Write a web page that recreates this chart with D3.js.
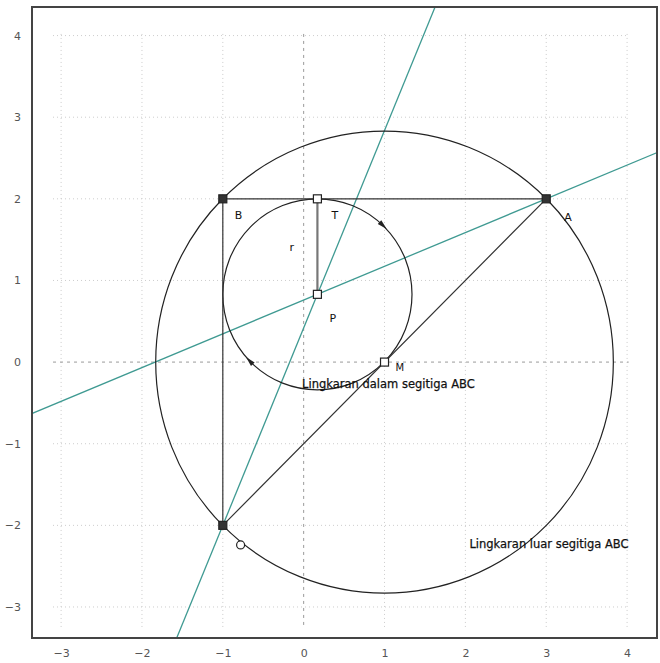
<!DOCTYPE html>
<html>
<head>
<meta charset="utf-8">
<script src="https://cdn.jsdelivr.net/npm/d3@7"></script>
<style>
  body { margin: 0; background: #fff; }
  text { font-family: "DejaVu Sans", sans-serif; }
</style>
</head>
<body>
<div id="chartContainer"></div>
<script>
// segitiga siku-siku ABC, lingkaran dalam dan lingkaran luar
const pointNames = ["A", "B", "C", "T", "P", "M"];
const pointX = [3, -1, -1, 0.17, 0.17, 1];
const pointY = [2, 2, -2, 2, 0.83, 0];
const filledPoints = ["A", "B", "C"];

const tickValues = [-3, -2, -1, 0, 1, 2, 3, 4];

// lingkaran: pusat dan jari-jari
const circleNames = ["dalam", "luar"];
const circleCx = [0.17, 1];
const circleCy = [0.83, 0];
const circleR = [1.17, 2.83];

// garis bagi sudut (dua titik pada garis)
const bisectorFrom = ["A", "C"];
const bisectorThrough = ["P", "P"];

// titik lain pada lingkaran luar
const extraX = [-0.78];
const extraY = [-2.24];

// penanda arah pada lingkaran dalam (derajat)
const arrowAngles = [46, 224];

const labelText = ["Lingkaran dalam segitiga ABC", "Lingkaran luar segitiga ABC"];
const labelX = [-0.02, 2.05];
const labelY = [-0.32, -2.28];

(function() {
    const fullWidth = 660, fullHeight = 663;
    const x = d3.scaleLinear().domain([-3.36, 4.37]).range([32, 657]);
    const y = d3.scaleLinear().domain([-3.38, 4.35]).range([638, 7]);

    const pt = {};
    pointNames.forEach((n, i) => pt[n] = [pointX[i], pointY[i]]);

    const svg = d3.create("svg")
        .attr("width", fullWidth)
        .attr("height", fullHeight)
        .attr("viewBox", [0, 0, fullWidth, fullHeight]);

    svg.append("defs").append("clipPath").attr("id", "plotClip")
        .append("rect")
        .attr("x", x(-3.36)).attr("y", y(4.35))
        .attr("width", x(4.37) - x(-3.36)).attr("height", y(-3.38) - y(4.35));

    // grid
    const grid = svg.append("g").attr("stroke", "#ccc").attr("stroke-dasharray", "1,3").attr("stroke-width", 1);
    grid.selectAll("line.v").data(tickValues.filter(d => d !== 0)).join("line")
        .attr("class", "v")
        .attr("x1", d => x(d)).attr("x2", d => x(d))
        .attr("y1", y(4.02)).attr("y2", y(-3.25));
    grid.selectAll("line.h").data(tickValues.filter(d => d !== 0)).join("line")
        .attr("class", "h")
        .attr("y1", d => y(d)).attr("y2", d => y(d))
        .attr("x1", x(-3.1)).attr("x2", x(4.02));

    // axes through origin
    const axes = svg.append("g").attr("stroke", "#999").attr("stroke-dasharray", "3,4").attr("stroke-width", 1);
    axes.append("line").attr("x1", x(0)).attr("x2", x(0)).attr("y1", y(4.02)).attr("y2", y(-3.25));
    axes.append("line").attr("y1", y(0)).attr("y2", y(0)).attr("x1", x(-3.1)).attr("x2", x(4.02));

    const plot = svg.append("g").attr("clip-path", "url(#plotClip)");

    // angle bisectors, extended across the frame
    bisectorFrom.forEach((f, i) => {
        const p0 = pt[f], p1 = pt[bisectorThrough[i]];
        const dx = p1[0] - p0[0], dy = p1[1] - p0[1];
        const t0 = -20, t1 = 20;
        plot.append("line")
            .attr("x1", x(p0[0] + t0 * dx)).attr("y1", y(p0[1] + t0 * dy))
            .attr("x2", x(p0[0] + t1 * dx)).attr("y2", y(p0[1] + t1 * dy))
            .attr("stroke", "#3f9a92").attr("stroke-width", 1.3);
    });

    // circles
    circleNames.forEach((n, i) => {
        plot.append("ellipse")
            .attr("cx", x(circleCx[i])).attr("cy", y(circleCy[i]))
            .attr("rx", x(circleCx[i] + circleR[i]) - x(circleCx[i]))
            .attr("ry", y(circleCy[i]) - y(circleCy[i] + circleR[i]))
            .attr("fill", "none").attr("stroke", "#222").attr("stroke-width", 1.2);
    });

    // triangle
    const tri = ["A", "B", "C"].map(n => pt[n]);
    plot.append("path")
        .attr("d", d3.line().x(d => x(d[0])).y(d => y(d[1]))(tri) + "Z")
        .attr("fill", "none").attr("stroke", "#333").attr("stroke-width", 1.2);

    // radius segment P-T
    plot.append("line")
        .attr("x1", x(pt.P[0])).attr("y1", y(pt.P[1]))
        .attr("x2", x(pt.T[0])).attr("y2", y(pt.T[1]))
        .attr("stroke", "#777").attr("stroke-width", 2.2);

    // direction markers on incircle
    arrowAngles.forEach(a => {
        const rad = a * Math.PI / 180;
        const cx = circleCx[0] + circleR[0] * Math.cos(rad);
        const cy = circleCy[0] + circleR[0] * Math.sin(rad);
        const px = x(cx), py = y(cy);
        const tx = Math.sin(rad), ty = Math.cos(rad);  // screen tangent (clockwise)
        const s = 5;
        plot.append("path")
            .attr("d", `M${px + tx * s},${py + ty * s} L${px - tx * s - ty * 2.5},${py - ty * s + tx * 2.5} L${px - tx * s + ty * 2.5},${py - ty * s - tx * 2.5}Z`)
            .attr("fill", "#222");
    });

    // points
    pointNames.forEach((n, i) => {
        const filled = filledPoints.includes(n);
        plot.append("rect")
            .attr("x", x(pointX[i]) - 4).attr("y", y(pointY[i]) - 4)
            .attr("width", 8).attr("height", 8)
            .attr("fill", filled ? "#333" : "#fff")
            .attr("stroke", "#222").attr("stroke-width", 1.2);
    });
    extraX.forEach((v, i) => {
        plot.append("circle")
            .attr("cx", x(v)).attr("cy", y(extraY[i])).attr("r", 4)
            .attr("fill", "#fff").attr("stroke", "#222").attr("stroke-width", 1.2);
    });

    // point labels
    const lbl = svg.append("g").attr("font-size", 11).attr("fill", "#111");
    const offs = { A: [18, 22], B: [12, 20], T: [14, 20], P: [12, 28], M: [11, 9] };
    Object.keys(offs).forEach(n => {
        lbl.append("text")
            .attr("x", x(pt[n][0]) + offs[n][0]).attr("y", y(pt[n][1]) + offs[n][1])
            .attr("font-size", n === "M" ? 10 : 11)
            .text(n);
    });
    lbl.append("text")
        .attr("x", x(pt.T[0]) - 28).attr("y", y((pt.T[1] + pt.P[1]) / 2) + 4)
        .text("r");

    labelText.forEach((t, i) => {
        lbl.append("text")
            .attr("x", x(labelX[i])).attr("y", y(labelY[i]))
            .attr("font-size", 11.5)
            .attr("font-family", "Liberation Sans, Arial, sans-serif")
            .attr("stroke", "#111").attr("stroke-width", 0.25)
            .text(t);
    });

    // frame
    svg.append("rect")
        .attr("x", x(-3.36)).attr("y", y(4.35))
        .attr("width", x(4.37) - x(-3.36)).attr("height", y(-3.38) - y(4.35))
        .attr("fill", "none").attr("stroke", "#444").attr("stroke-width", 2);

    // tick labels
    const xAxis = svg.append("g")
        .attr("transform", `translate(0, ${y(-3.38) + 8})`)
        .call(d3.axisBottom(x).tickValues(tickValues).tickSize(0).tickFormat(d3.format("d")));
    xAxis.select(".domain").remove();
    xAxis.selectAll("text").attr("fill", "#555").attr("font-size", 11);

    const yAxis = svg.append("g")
        .attr("transform", `translate(${x(-3.36) - 8}, 0)`)
        .call(d3.axisLeft(y).tickValues(tickValues).tickSize(0).tickFormat(d3.format("d")));
    yAxis.select(".domain").remove();
    yAxis.selectAll("text").attr("fill", "#555").attr("font-size", 11);

    document.getElementById("chartContainer").append(svg.node());
})();
</script>
</body>
</html>
